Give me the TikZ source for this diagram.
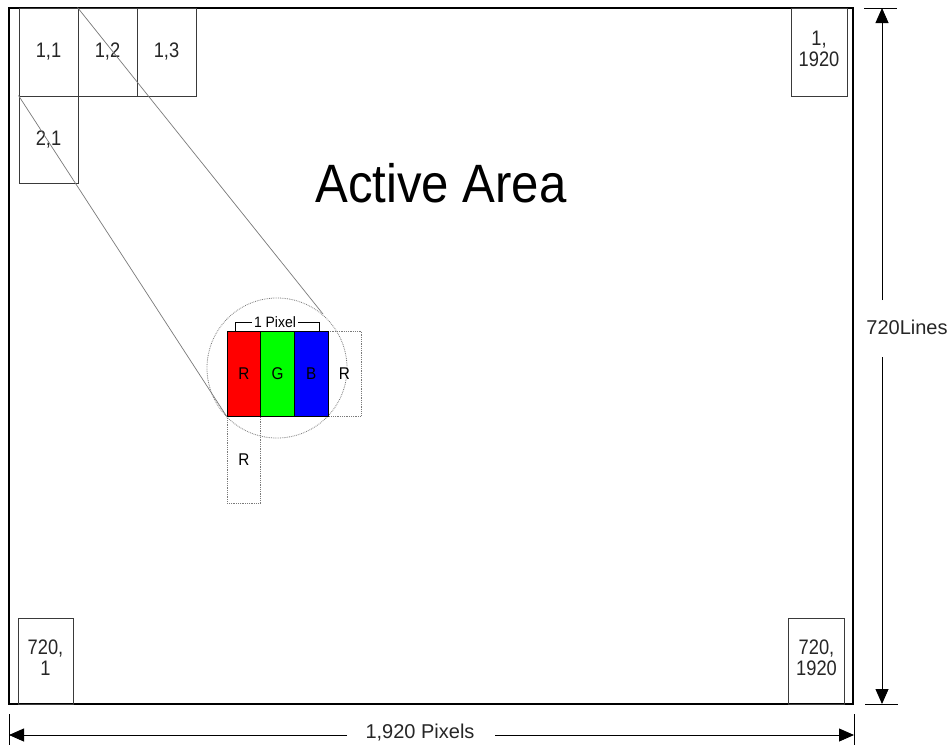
\documentclass[tikz,border=0pt]{standalone}
\usepackage{fontspec}
\setmainfont{Liberation Sans}
\usetikzlibrary{arrows.meta}
\definecolor{cellgray}{HTML}{3A3A3A}
\definecolor{lensgray}{HTML}{7A7A7A}
\definecolor{subred}{HTML}{FF0000}
\definecolor{subgreen}{HTML}{00FF00}
\definecolor{subblue}{HTML}{0000FF}
\newcommand\hsq[2][0.87]{\scalebox{#1}[1]{#2}}
\newcommand\twoline[2]{\begin{tabular}{@{}c@{}}#1\\#2\end{tabular}}
\begin{document}
\begin{tikzpicture}[x=1pt,y=-1pt,
  cell/.style={draw=cellgray, line width=1pt, inner sep=0pt, text=black!85, font=\fontsize{21}{21}\selectfont},
  subpx/.style={draw=black, line width=0.9pt, inner sep=0pt, minimum width=33.67pt, minimum height=85pt, font=\fontsize{17}{17}\selectfont},
  ghost/.style={draw=lensgray, densely dotted, line width=0.8pt, inner sep=0pt, minimum width=33.67pt, font=\fontsize{17}{17}\selectfont},
  lens/.style={draw=lensgray, densely dotted, line width=0.8pt, circle, inner sep=0pt, minimum size=140pt},
  zoomline/.style={draw=lensgray, line width=0.7pt},
  dim/.style={draw=black, line width=0.9pt},
  tip/.style={-{Triangle[length=15pt,width=13pt]}},
  dimlabel/.style={inner sep=1pt, font=\fontsize{20}{20}\selectfont, text=black!85}
]
\useasboundingbox (0,0) rectangle (949,747);
\fill[white] (0,0) rectangle (949,747);

% active area border
\node[draw=black, line width=2.2pt, inner sep=0pt, minimum width=844pt, minimum height=696pt] (area) at (431,356) {};

% corner cells
\node[cell, minimum width=59pt, minimum height=88pt] (c11) at (48.5,52) {\hsq{1,1}};
\node[cell, minimum width=59pt, minimum height=88pt] (c12) at (107.5,52) {\hsq{1,2}};
\node[cell, minimum width=59pt, minimum height=88pt] (c13) at (166.5,52) {\hsq{1,3}};
\node[cell, minimum width=59pt, minimum height=87pt] (c21) at (48.5,139.5) {\hsq{2,1}};
\node[cell, minimum width=56pt, minimum height=88pt] (c1N) at (819,52) {\hsq{\twoline{1,}{1920}}};
\node[cell, minimum width=55pt, minimum height=86pt] (cM1) at (45.5,661) {\hsq{\twoline{720,}{1}}};
\node[cell, minimum width=56pt, minimum height=86pt] (cMN) at (816.5,661) {\hsq{\twoline{720,}{1920}}};

% title
\node[font=\fontsize{54}{54}\selectfont, anchor=base, inner sep=0pt] (title) at (441,202) {\hsq[0.91]{Active Area}};

% magnified pixel
\node[lens] (lens) at (277,368) {};
\node[ghost, minimum height=85pt] (gr) at (344.5,373.5) {\hsq[0.9]{R}};
\node[ghost, minimum height=87pt] (gd) at (244,459.5) {\hsq[0.9]{R}};
\node[subpx, fill=subred] (pr) at (244,373.5) {\hsq[0.9]{R}};
\node[subpx, fill=subgreen] (pg) at (277.67,373.5) {\hsq[0.9]{G}};
\node[subpx, fill=subblue] (pb) at (311.33,373.5) {\hsq[0.9]{B}};

% 1 Pixel bracket
\node[inner xsep=2pt, inner ysep=0pt, font=\fontsize{15}{15}\selectfont] (px) at (275,322) {\hsq[0.93]{1 Pixel}};
\draw[line width=0.9pt] ([xshift=9pt]pr.north west) |- (px.west);
\draw[line width=0.9pt] ([xshift=-9pt]pb.north east) |- (px.east);

% zoom lines
\coordinate (t1) at (323,314);
\draw[zoomline] (c12.north west) -- (t1);
\draw[zoomline] (c21.north west) -- (pr.south west);

% vertical dimension
\coordinate (vt) at (882,8);
\coordinate (vb) at (882,704);
\coordinate (vg1) at (882,300);
\coordinate (vg2) at (882,357);
\node[dimlabel] (lines) at (907,327) {720Lines};
\draw[dim, tip] (vg1) -- (vt);
\draw[dim, tip] (vg2) -- (vb);
\draw[dim] (864,8) -- (897,8);
\draw[dim] (865,704.5) -- (898,704.5);

% horizontal dimension
\coordinate (hl) at (9,735);
\coordinate (hr) at (854,735);
\coordinate (hg1) at (347,735);
\coordinate (hg2) at (495,735);
\node[dimlabel] (pix) at (420,733) {1,920 Pixels};
\draw[dim, tip] (hg1) -- (hl);
\draw[dim, tip] (hg2) -- (hr);
\draw[dim] (9,714) -- (9,745);
\draw[dim] (854,714) -- (854,745);
\end{tikzpicture}
\end{document}
